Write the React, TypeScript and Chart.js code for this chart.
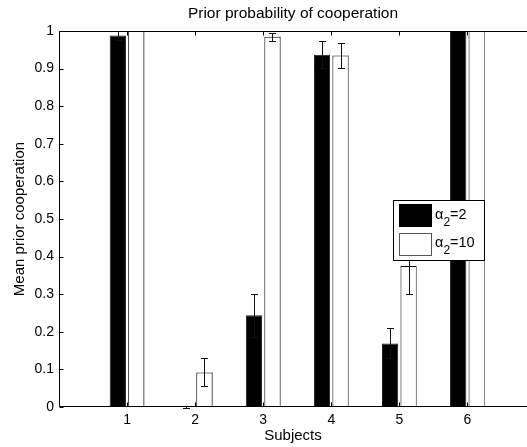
import React, { useEffect, useRef } from 'react';
import { Chart, registerables } from 'chart.js';

Chart.register(...registerables);

const chartTitle = 'Prior probability of cooperation';
const xAxisTitle = 'Subjects';
const yAxisTitle = 'Mean prior cooperation';

const subjects = [1, 2, 3, 4, 5, 6];
const alpha2Means = [0.988, 0.0, 0.244, 0.937, 0.169, 1.0];
const alpha2Errors = [0.011, 0.003, 0.057, 0.036, 0.04, 0.0];
const alpha10Means = [1.0, 0.092, 0.985, 0.935, 0.375, 1.0];
const alpha10Errors = [0.0, 0.037, 0.011, 0.034, 0.075, 0.0];
const yTickValues = [0, 0.1, 0.2, 0.3, 0.4, 0.5, 0.6, 0.7, 0.8, 0.9, 1];
const xMin = 0;
const xMax = 6.875;

const legendEntries = [
  { base: 'α', sub: '2', rest: '=2', fill: '#000000', stroke: '#000000' },
  { base: 'α', sub: '2', rest: '=10', fill: '#ffffff', stroke: '#555555' },
];

const FONT = '"Liberation Sans", Arial, Helvetica, sans-serif';

const decorPlugin = {
  id: 'matlabDecor',
  afterDatasetsDraw(chart: any) {
    const { ctx, chartArea: a, scales } = chart;
    const ys = scales.y;
    const xs = scales.x;
    ctx.save();

    // gray right edges of the white bars
    ctx.lineWidth = 1;
    ctx.strokeStyle = '#8a8a8a';
    chart.getDatasetMeta(1).data.forEach((el: any) => {
      const rx = Math.round(el.x + el.width / 2) - 0.5;
      ctx.beginPath();
      ctx.moveTo(rx, el.y);
      ctx.lineTo(rx, el.base);
      ctx.stroke();
    });

    // error bars
    const means = [alpha2Means, alpha10Means];
    const errs = [alpha2Errors, alpha10Errors];
    ctx.strokeStyle = '#111111';
    [0, 1].forEach((d) => {
      chart.getDatasetMeta(d).data.forEach((el: any, i: number) => {
        const cx = Math.round(el.x) + 0.5;
        const top = Math.round(ys.getPixelForValue(means[d][i] + errs[d][i])) + 0.5;
        const bot = Math.round(ys.getPixelForValue(means[d][i] - errs[d][i])) + 0.5;
        ctx.beginPath();
        ctx.moveTo(cx, top);
        ctx.lineTo(cx, bot);
        ctx.moveTo(cx - 3.5, top);
        ctx.lineTo(cx + 3.5, top);
        ctx.moveTo(cx - 3.5, bot);
        ctx.lineTo(cx + 3.5, bot);
        ctx.stroke();
      });
    });

    // axes frame
    ctx.strokeStyle = '#000000';
    const L = Math.round(a.left) + 0.5;
    const T = Math.round(a.top) + 0.5;
    const B = Math.round(a.bottom) - 0.5;
    const R = a.right + 5;
    ctx.beginPath();
    ctx.moveTo(R, T);
    ctx.lineTo(L, T);
    ctx.lineTo(L, B);
    ctx.lineTo(R, B);
    ctx.stroke();

    // inward ticks
    ctx.beginPath();
    yTickValues.forEach((v) => {
      const py = Math.round(ys.getPixelForValue(v)) + 0.5;
      ctx.moveTo(L, py);
      ctx.lineTo(L + 4, py);
    });
    subjects.forEach((s) => {
      const px = Math.round(xs.getPixelForValue(s)) + 0.5;
      ctx.moveTo(px, T);
      ctx.lineTo(px, T + 4);
      ctx.moveTo(px, B);
      ctx.lineTo(px, B - 4);
    });
    ctx.stroke();

    // legend
    const lx = 393.5, ly = 200.5, lw = 91, lh = 60;
    ctx.fillStyle = '#ffffff';
    ctx.fillRect(lx, ly, lw, lh);
    ctx.strokeStyle = '#000000';
    ctx.strokeRect(lx, ly, lw, lh);
    legendEntries.forEach((e, i) => {
      const sy = 204 + i * 29;
      ctx.fillStyle = e.fill;
      ctx.fillRect(399, sy, 33, 23);
      ctx.strokeStyle = e.stroke;
      ctx.strokeRect(399.5, sy + 0.5, 32, 22);
      const baseY = 219 + i * 28;
      ctx.fillStyle = '#000000';
      ctx.textBaseline = 'alphabetic';
      ctx.textAlign = 'left';
      ctx.font = `14.5px ${FONT}`;
      let tx = 435;
      ctx.fillText(e.base, tx, baseY);
      tx += ctx.measureText(e.base).width;
      ctx.font = `12px ${FONT}`;
      ctx.fillText(e.sub, tx, baseY + 7);
      tx += ctx.measureText(e.sub).width;
      ctx.font = `14.5px ${FONT}`;
      ctx.fillText(e.rest, tx, baseY);
    });

    ctx.restore();
  },
};

export default function App() {
  const ref = useRef<HTMLCanvasElement | null>(null);

  useEffect(() => {
    if (!ref.current) return;
    Chart.defaults.font.family = FONT;
    Chart.defaults.color = '#000000';
    const chart = new Chart(ref.current, {
      type: 'bar',
      data: {
        datasets: [
          {
            label: 'α2=2',
            data: subjects.map((s, i) => ({ x: s, y: alpha2Means[i] })),
            backgroundColor: '#000000',
            borderColor: '#1a1a1a',
            borderWidth: 1,
          },
          {
            label: 'α2=10',
            data: subjects.map((s, i) => ({ x: s, y: alpha10Means[i] })),
            backgroundColor: '#ffffff',
            borderColor: '#000000',
            borderWidth: 1,
          },
        ],
      },
      options: {
        responsive: false,
        animation: false,
        devicePixelRatio: 1,
        categoryPercentage: 0.544,
        barPercentage: 0.88,
        layout: { padding: 0 },
        plugins: {
          legend: { display: false },
          tooltip: { enabled: false },
          title: {
            display: true,
            text: chartTitle,
            fullSize: false,
            color: '#000000',
            font: { size: 15.5, weight: 'normal', family: FONT },
            padding: { top: 4, bottom: 8.4 },
          },
        },
        scales: {
          x: {
            type: 'linear',
            min: xMin,
            max: xMax,
            offset: false,
            grid: { display: false, drawTicks: false },
            border: { display: false },
            afterBuildTicks: (scale: any) => {
              scale.ticks = subjects.map((v) => ({ value: v }));
            },
            afterFit: (scale: any) => {
              scale.height = 40;
            },
            ticks: {
              padding: 5,
              color: '#000000',
              font: { size: 14, family: FONT },
              autoSkip: false,
              maxRotation: 0,
              callback: (v: any) => String(v),
            },
            title: {
              display: true,
              text: xAxisTitle,
              color: '#000000',
              font: { size: 15, family: FONT },
              padding: { top: 0, bottom: 2.5 },
            },
          },
          y: {
            type: 'linear',
            min: 0,
            max: 1,
            grid: { display: false, drawTicks: false },
            border: { display: false },
            afterBuildTicks: (scale: any) => {
              scale.ticks = yTickValues.map((v) => ({ value: v }));
            },
            afterFit: (scale: any) => {
              scale.width = 59;
            },
            ticks: {
              padding: 5,
              color: '#000000',
              font: { size: 14, family: FONT },
              callback: (v: any) => String(v),
            },
            title: {
              display: true,
              text: yAxisTitle,
              color: '#000000',
              font: { size: 15, family: FONT },
              padding: { top: 11, bottom: 0 },
            },
          },
        },
      } as any,
      plugins: [decorPlugin],
    });
    return () => chart.destroy();
  }, []);

  return (
    <div style={{ position: 'absolute', left: 0, top: 0, width: 527, height: 447 }}>
      <canvas ref={ref} width={527} height={447} style={{ display: 'block' }} />
    </div>
  );
}
